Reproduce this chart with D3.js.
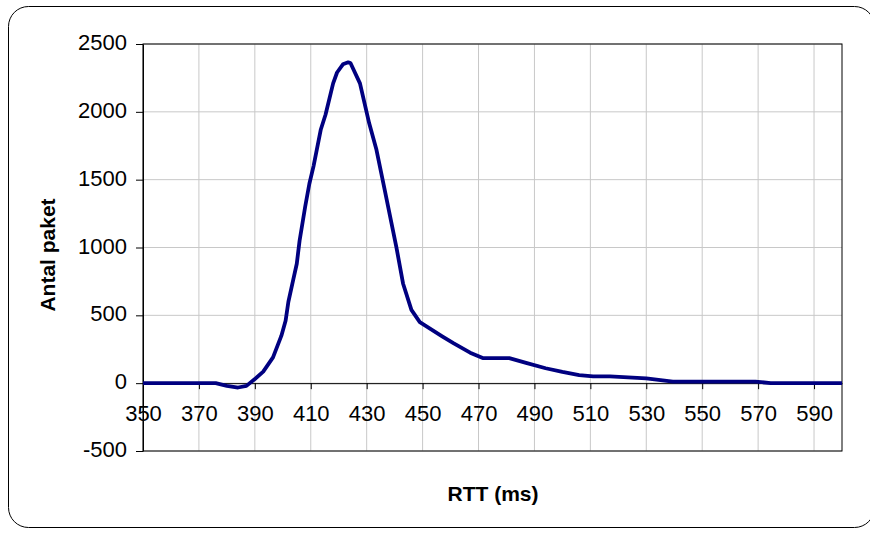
<!DOCTYPE html>
<meta charset="utf-8">
<script src="https://cdn.jsdelivr.net/npm/d3@7"></script>
<style>
  body { margin: 0; background: #fff; }
  text { font-family: "Liberation Sans", Arial, sans-serif; }
</style>
<div id="chart"></div>
<script>

// RTT values (ms) and number of packets
var rtt = [350, 376, 380, 384, 387, 390, 393, 396.5, 399.5, 401, 402, 403.7, 405, 406, 408,
  409.5, 411, 413.6, 415.3, 418, 419.4, 421.5, 423.4, 424.2, 427.6, 430.9, 433.5, 436.5,
  440.6, 443, 446, 449, 457, 461, 467, 471.5, 481, 487, 494, 500, 506, 511, 517, 530,
  539.5, 569, 574.5, 600]
var packets = [0, 0, -20, -32, -20, 30, 85, 190, 350, 460, 600, 760, 880, 1050, 1300,
  1470, 1600, 1870, 1980, 2210, 2290, 2350, 2365, 2360, 2210, 1915, 1720, 1420,
  1005, 735, 540, 450, 345, 295, 225, 185, 185, 150, 110, 83, 60, 50, 50, 35,
  12, 12, 0, 0]

var xTicks = [350, 370, 390, 410, 430, 450, 470, 490, 510, 530, 550, 570, 590]
var yTicks = [-500, 0, 500, 1000, 1500, 2000, 2500]

var width = 870, height = 533
var plotL = 143, plotR = 842, plotT = 44, plotB = 451

var svg = d3.select("#chart").append("svg")
  .attr("width", width)
  .attr("height", height)

// outer rounded frame
svg.append("rect")
  .attr("x", 8.5).attr("y", 6.5)
  .attr("width", 866).attr("height", 521)
  .attr("rx", 20)
  .attr("fill", "#fff")
  .attr("stroke", "#000")

var x = d3.scaleLinear().domain([350, 600]).range([plotL, plotR])
var y = d3.scaleLinear().domain([-500, 2500]).range([plotB, plotT])

// gridlines
svg.append("g").selectAll("line")
  .data(xTicks).enter().append("line")
  .attr("x1", function(d){ return x(d) }).attr("x2", function(d){ return x(d) })
  .attr("y1", plotT).attr("y2", plotB)
  .attr("stroke", "#c8c8c8")
svg.append("g").selectAll("line")
  .data(yTicks).enter().append("line")
  .attr("x1", plotL).attr("x2", plotR)
  .attr("y1", function(d){ return y(d) }).attr("y2", function(d){ return y(d) })
  .attr("stroke", "#c8c8c8")

// plot border
svg.append("rect")
  .attr("x", plotL).attr("y", plotT)
  .attr("width", plotR - plotL).attr("height", plotB - plotT)
  .attr("fill", "none")
  .attr("stroke", "#000")

var plain = function(d){ return String(d) }

// Y axis
var yAxis = svg.append("g")
  .attr("transform", "translate(" + plotL + ",0)")
  .call(d3.axisLeft(y).tickValues(yTicks).tickFormat(plain)
    .tickSize(7).tickPadding(9).tickSizeOuter(0))
yAxis.selectAll("text").style("font-size", "22px").attr("fill", "#000").attr("dy", "0.25em")
yAxis.select(".domain").attr("stroke", "#000")

// X axis sits on zero
var xAxis = svg.append("g")
  .attr("transform", "translate(0," + y(0) + ")")
  .call(d3.axisBottom(x).tickValues(xTicks).tickFormat(plain)
    .tickSize(6).tickPadding(16).tickSizeOuter(0))
xAxis.selectAll("text").style("font-size", "22px").attr("fill", "#000")
xAxis.select(".domain").attr("stroke", "#000")

// the curve
var line = d3.line()
  .x(function(d, i){ return x(rtt[i]) })
  .y(function(d){ return y(d) })

svg.append("path")
  .datum(packets)
  .attr("d", line)
  .attr("fill", "none")
  .attr("stroke", "#000080")
  .attr("stroke-width", 3.8)
  .attr("stroke-linejoin", "round")

// axis titles
svg.append("text")
  .attr("transform", "translate(55,255) rotate(-90)")
  .attr("text-anchor", "middle")
  .style("font-size", "21px")
  .style("font-weight", "bold")
  .text("Antal paket")

svg.append("text")
  .attr("x", 493).attr("y", 501)
  .attr("text-anchor", "middle")
  .style("font-size", "21px")
  .style("font-weight", "bold")
  .text("RTT (ms)")

</script>
